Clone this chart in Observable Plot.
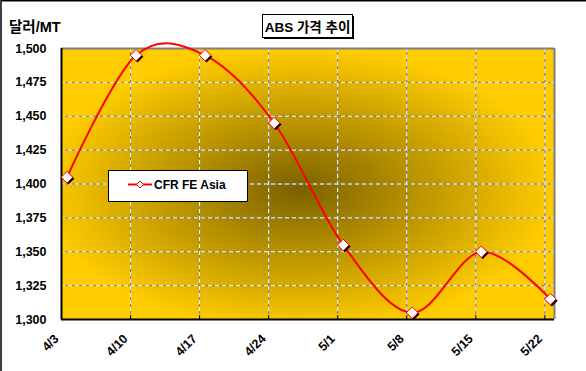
<!DOCTYPE html>
<html>
<head>
<meta charset="utf-8">
<script src="https://cdn.jsdelivr.net/npm/d3@7"></script>
<script src="https://cdn.jsdelivr.net/npm/@observablehq/plot@0.6"></script>
<style>
  html, body { margin: 0; padding: 0; background: white; }
  #chart { width: 586px; height: 371px; overflow: hidden; }
</style>
</head>
<body>
<div id="chart"></div>
<script>
// ---- data ----
const weekLabels = ["4/3", "4/10", "4/17", "4/24", "5/1", "5/8", "5/15", "5/22"];
const prices = [1405, 1495, 1495, 1445, 1355, 1305, 1350, 1315];
const yTicks = [1300, 1325, 1350, 1375, 1400, 1425, 1450, 1475, 1500];
const seriesName = "CFR FE Asia";
const chartTitle = "ABS 가격 추이";
const yUnit = "달러/MT";

// ---- layout constants ----
const pointShift = 0.08;          // data points sit slightly right of the week ticks
const xMax = 7.14;
const FONT = "'Liberation Sans', Arial, 'Noto Sans CJK KR', sans-serif";

const rows = weekLabels.map((label, i) => ({week: i, label, price: prices[i]}));
const px = d => d.week + pointShift;
const tickIdx = weekLabels.map((_, i) => i);

const chart = Plot.plot({
  width: 586,
  height: 371,
  marginLeft: 61,
  marginRight: 32,
  marginTop: 48,
  marginBottom: 52,
  style: {fontFamily: FONT, fontSize: "12px", fontWeight: "bold", color: "black", background: "white", overflow: "visible"},
  x: {domain: [0, xMax], axis: null},
  y: {domain: [yTicks[0], yTicks[yTicks.length - 1]], axis: null},
  marks: [
    Plot.frame({fill: "url(#bg)", stroke: null}),
    // gridlines: gray underlay + white dashes
    Plot.ruleY(yTicks.slice(1, -1), {stroke: "#7f7f7f", strokeWidth: 1}),
    Plot.ruleY(yTicks.slice(1, -1), {stroke: "white", strokeWidth: 1, strokeDasharray: "4,3"}),
    Plot.ruleX(tickIdx.slice(1), {stroke: "#7f7f7f", strokeWidth: 1}),
    Plot.ruleX(tickIdx.slice(1), {stroke: "white", strokeWidth: 1, strokeDasharray: "4,3"}),
    // plot area border
    Plot.ruleY([yTicks[yTicks.length - 1]], {stroke: "#808080", strokeWidth: 2}),
    Plot.ruleX([xMax], {stroke: "#808080", strokeWidth: 2}),
    Plot.ruleX([0], {stroke: "black", strokeWidth: 2}),
    Plot.ruleY([yTicks[0]], {stroke: "black", strokeWidth: 2}),
    Plot.ruleX(tickIdx.slice(1), {y1: yTicks[0], y2: yTicks[0] + 3, stroke: "black", strokeWidth: 1}),
    // y tick labels
    Plot.text(yTicks, {y: d => d, frameAnchor: "left", text: d => d3.format(",")(d), textAnchor: "end", dx: -15, fontSize: 12.5, fontWeight: "bold", fill: "black"}),
    // x tick labels
    Plot.text(tickIdx, {x: d => d, frameAnchor: "bottom", text: d => weekLabels[d], rotate: -45, textAnchor: "end", dx: -2, dy: 20, fontSize: 12.5, fontWeight: "bold", fill: "black"}),
    // series
    Plot.line(rows, {x: px, y: "price", stroke: "#ff0000", strokeWidth: 2, curve: "cardinal"}),
    Plot.dot(rows, {x: px, y: "price", symbol: "diamond2", r: 5.2, fill: "black", stroke: null, dx: 1.5, dy: 1.5}),
    Plot.dot(rows, {x: px, y: "price", symbol: "diamond2", r: 5.2, fill: "white", stroke: "#ff0000", strokeWidth: 1})
  ]
});

document.getElementById("chart").appendChild(chart);

const svg = d3.select(chart);
const defs = svg.insert("defs", ":first-child");
const grad = defs.append("radialGradient").attr("id", "bg")
  .attr("cx", "48%").attr("cy", "52%").attr("r", "52%");
grad.append("stop").attr("offset", "0%").attr("stop-color", "#7a6100");
grad.append("stop").attr("offset", "45%").attr("stop-color", "#b89200");
grad.append("stop").attr("offset", "100%").attr("stop-color", "#ffcc00");

// outer frame (top + left)
svg.append("path").attr("d", "M1,371V0.75H586").attr("fill", "none").attr("stroke", "black").attr("stroke-width", 1.5);

// y unit label
svg.append("text").attr("x", 9).attr("y", 32).attr("text-anchor", "start")
  .attr("font-family", FONT).attr("font-size", 14.5).attr("font-weight", "bold").attr("fill", "black")
  .text(yUnit);

// title box
const tg = svg.append("g");
tg.append("rect").attr("x", 264).attr("y", 16).attr("width", 90).attr("height", 23).attr("fill", "black");
tg.append("rect").attr("x", 262.5).attr("y", 14.5).attr("width", 90).attr("height", 23)
  .attr("fill", "white").attr("stroke", "black").attr("stroke-width", 1);
tg.append("text").attr("x", 307.5).attr("y", 31.5).attr("text-anchor", "middle")
  .attr("font-family", FONT).attr("font-size", 13.5).attr("font-weight", "bold").attr("fill", "black")
  .text(chartTitle);

// legend
const lg = svg.append("g");
lg.append("rect").attr("x", 108.5).attr("y", 170.5).attr("width", 139).attr("height", 31)
  .attr("fill", "white").attr("stroke", "black").attr("stroke-width", 1);
lg.append("line").attr("x1", 128).attr("x2", 152).attr("y1", 184.5).attr("y2", 184.5)
  .attr("stroke", "#ff0000").attr("stroke-width", 2);
lg.append("path").attr("d", "M140,181L143.5,184.5L140,188L136.5,184.5Z")
  .attr("fill", "white").attr("stroke", "#ff0000").attr("stroke-width", 1);
lg.append("text").attr("x", 154).attr("y", 189).attr("text-anchor", "start")
  .attr("font-family", FONT).attr("font-size", 12).attr("font-weight", "bold").attr("fill", "black")
  .text(seriesName);
</script>
</body>
</html>
